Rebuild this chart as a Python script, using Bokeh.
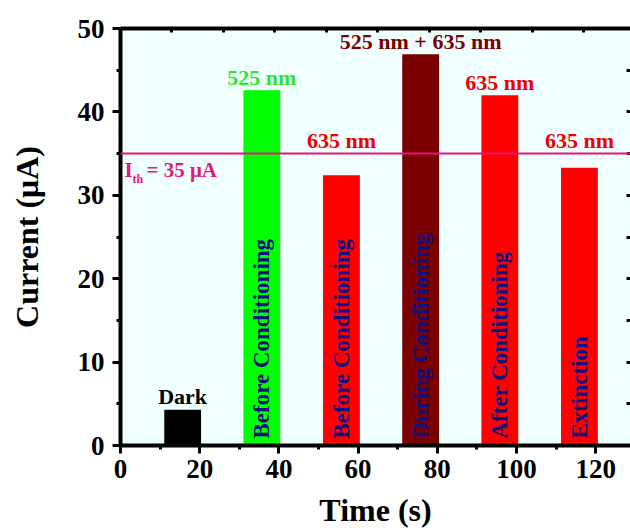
import math
from bokeh.plotting import figure
from bokeh.models import Range1d, LinearAxis, SingleIntervalTicker, FixedTicker, Span
from bokeh.core.properties import value
from bokeh.embed import file_html
from bokeh.resources import INLINE

# ---- data ----
bar_x = [15.7, 35.7, 55.8, 75.8, 95.8, 115.9]
currents = [4.3, 42.6, 32.4, 46.9, 42.0, 33.3]
bar_colors = ["#000000", "#00ff00", "#ff0000", "#7a0000", "#ff0000", "#ff0000"]
top_labels = ["Dark", "525 nm", "635 nm", "525 nm + 635 nm", "635 nm", "635 nm"]
label_colors = ["#000000", "#2ee62e", "#f00000", "#7a0000", "#f00000", "#f00000"]
phase_labels = ["", "Before Conditioning", "Before Conditioning",
                "During Conditioning", "After Conditioning", "Extinction"]
threshold = 35
top_ticks = [13, 26, 39, 52, 65, 78, 91, 104, 117]
right_ticks = [5, 10, 15, 20, 25, 30, 35, 40, 45]

FONT = "Liberation Serif"
PINK = "#e3177d"
NAVY = "#10107e"

p = figure(width=630, height=531, output_backend="svg", toolbar_location=None,
           x_range=Range1d(0, 128.8), y_range=Range1d(0, 50),
           min_border_left=120, min_border_top=28, min_border_bottom=86,
           min_border_right=0)
p.background_fill_color = "#f0ffff"
p.border_fill_color = "white"
p.outline_line_color = None
p.grid.visible = False

# bars
p.vbar(x=bar_x, top=currents, width=9.3, bottom=0, fill_color=bar_colors,
       line_color=None)

# threshold line
p.add_layout(Span(location=threshold, dimension="width", line_color=PINK, line_width=2))

# labels above bars
label_y = [v if name == "Dark" else max(v, threshold) for v, name in zip(currents, top_labels)]
p.text(x=bar_x, y=label_y, text=top_labels, text_color=label_colors,
       text_font=value(FONT), text_font_style="bold", text_font_size="22px",
       text_align="center", text_baseline="alphabetic", y_offset=-13)

# vertical phase labels
p.text(x=bar_x[1:], y=[0] * 5, text=phase_labels[1:], angle=math.pi / 2,
       text_color=NAVY, text_font=value(FONT), text_font_style="bold",
       text_font_size="23px", text_align="left", text_baseline="middle",
       y_offset=-7)

# threshold label I_th = 35 uA
p.text(x=[0], y=[threshold], text=["I"], text_color=PINK, text_font=value(FONT),
       text_font_style="bold", text_font_size="21px", text_align="left",
       text_baseline="alphabetic", x_offset=4, y_offset=16)
p.text(x=[0], y=[threshold], text=["th"], text_color=PINK, text_font=value(FONT),
       text_font_style="bold", text_font_size="12px", text_align="left",
       text_baseline="alphabetic", x_offset=12, y_offset=25)
p.text(x=[0], y=[threshold], text=["= 35 \u03bcA"], text_color=PINK,
       text_font=value(FONT), text_font_style="bold", text_font_size="21px",
       text_align="left", text_baseline="alphabetic", x_offset=26, y_offset=16)

# axes styling
def style_axis(ax):
    ax.axis_line_width = 4
    ax.axis_line_color = "black"
    ax.major_tick_line_width = 3
    ax.minor_tick_line_width = 3
    ax.major_tick_line_color = "black"
    ax.minor_tick_line_color = "black"
    ax.major_label_text_font = FONT
    ax.major_label_text_font_style = "bold"
    ax.major_label_text_font_size = "27px"
    ax.major_label_text_color = "black"
    ax.axis_label_text_font = FONT
    ax.axis_label_text_font_style = "bold"
    ax.axis_label_text_font_size = "32px"
    ax.axis_label_text_color = "black"

xa = p.xaxis[0]
style_axis(xa)
xa.ticker = SingleIntervalTicker(interval=20, num_minor_ticks=2)
xa.axis_label = "Time (s)"
xa.major_tick_out = 8
xa.major_tick_in = 0
xa.minor_tick_out = 4
xa.minor_tick_in = 0
xa.major_label_standoff = 6
xa.axis_label_standoff = 11
xa.major_label_text_line_height = 0.9
xa.axis_label_text_line_height = 0.8

ya = p.yaxis[0]
style_axis(ya)
ya.ticker = SingleIntervalTicker(interval=10, num_minor_ticks=2)
ya.axis_label = "Current (\u03bcA)"
ya.major_tick_out = 8
ya.major_tick_in = 0
ya.minor_tick_out = 4
ya.minor_tick_in = 0
ya.major_label_standoff = 8
ya.axis_label_standoff = 30

top_ax = LinearAxis(ticker=FixedTicker(ticks=top_ticks))
style_axis(top_ax)
top_ax.major_label_overrides = {t: "" for t in top_ticks}
top_ax.major_label_text_font_size = "8px"
top_ax.major_label_standoff = 0
top_ax.major_tick_out = 0
top_ax.major_tick_in = 4
top_ax.minor_tick_line_color = None
p.add_layout(top_ax, "above")

right_ax = LinearAxis(ticker=FixedTicker(ticks=right_ticks))
style_axis(right_ax)
right_ax.axis_line_color = None
right_ax.major_label_overrides = {t: "" for t in right_ticks}
right_ax.major_label_text_font_size = "8px"
right_ax.major_label_standoff = 0
right_ax.major_tick_out = 0
right_ax.major_tick_in = 4
right_ax.minor_tick_line_color = None
p.add_layout(right_ax, "right")

open("out.html", "w").write(file_html(p, INLINE))
